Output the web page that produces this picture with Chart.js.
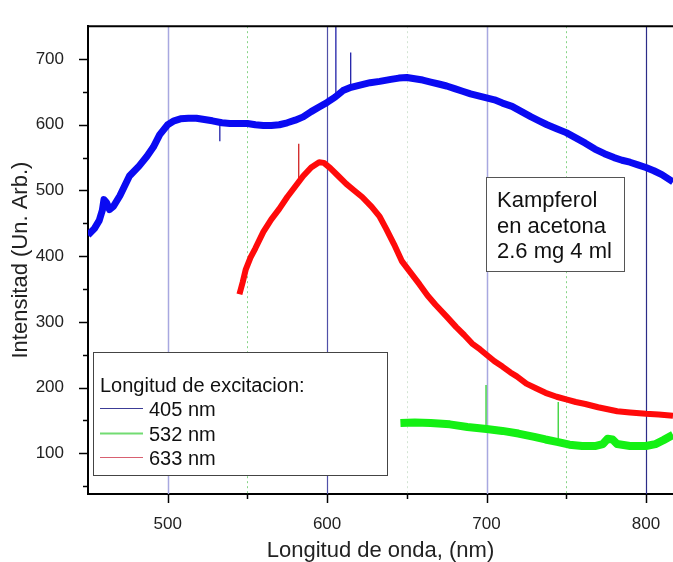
<!DOCTYPE html>
<html><head><meta charset="utf-8">
<script src="https://cdn.jsdelivr.net/npm/chart.js@4.4.1/dist/chart.umd.min.js"></script>
<style>html,body{margin:0;padding:0;background:#fff;overflow:hidden}#wrap{width:673px;height:562px;position:relative}</style>
</head><body><div id="wrap"><canvas id="c" width="673" height="562"></canvas></div>
<script>
const FONT = 'Arial, "Liberation Sans", sans-serif';

// ---- axis ranges / ticks ----
const xRange = [450, 817];
const yRange = [38, 750];
const xTickLabels = [500, 600, 700, 800];
const xMinorTicks = [550, 650, 750];
const yTickLabels = [100, 200, 300, 400, 500, 600, 700];
const yMinorTicks = [50, 150, 250, 350, 450, 550, 650];
const refLinesSolid = [500, 600, 700, 800];
const refLinesDotted = [550, 650, 750];

// ---- texts ----
const seriesLabels = ['405 nm', '532 nm', '633 nm'];
const legendTitle = 'Longitud de excitacion:';
const noteLines = ['Kampferol', 'en acetona', '2.6 mg 4 ml'];
const xTitle = 'Longitud de onda, (nm)';
const yTitle = 'Intensitad (Un. Arb.)';

// ---- series: [wavelength nm, intensity] ----
const s405 = [[450,432],[454,442],[457,454],[459,470],[460,486],[461.5,482],[463.5,471],[466,476],[470,492],[476,522],[482,537],[487,552],[491,566],[495,585],[500,600],[504,606],[508,609],[513,610],[518,610],[523,608],[528,606],[534,603],[539,602],[545,602],[550,602],[555,600],[560,599],[565,599],[570,600],[575,603],[580,607],[585,612],[590,620],[595,627],[600,634],[605,642],[610,652],[615,657],[620,660],[627,664],[633,666],[640,669],[645,671],[650,672],[655,670],[660,668],[665,665],[670,662],[675,659],[680,655],[685,651],[690,647],[695,644],[700,641],[705,638],[710,633],[716,628],[722,620],[728,612],[733,606],[738,600],[744,594],[750,588],[756,580],[762,572],[768,563],[774,556],[780,550],[785,546],[790,543],[795,539],[800,535],[805,530],[810,524],[817,513]];
const s532 = [[646,146],[655,147],[665,146],[677,144],[688,140],[700,137],[710,134],[720,130],[730,125],[737,121],[745,117],[752,113],[760,111],[768,111],[773,114],[776,122],[779,121],[782,114],[790,111],[800,111],[806,114],[811,120],[817,128]];
const s633 = [[545,342],[547,360],[549,380],[552,398],[555,412],[560,437],[565,456],[570,472],[575,490],[580,506],[585,522],[590,535],[595,543],[598,542],[602,534],[607,522],[612,510],[617,500],[622,490],[628,475],[633,460],[637,442],[642,418],[647,392],[652,376],[658,357],[663,340],[668,326],[675,308],[681,292],[686,280],[691,267],[696,258],[700,250],[705,240],[710,232],[715,223],[719,217],[725,206],[731,199],[737,192],[744,186],[750,182],[756,178],[762,175],[770,170],[776,167],[782,164],[790,162],[800,160],[808,159],[817,157]];
// spikes: [wavelength, base, tip]
const spikes405 = [[605.5,640,800],[614.8,655,710],[532.7,603,575]];
const spikes532 = [[699.7,137,204],[745,117,178]];
const spikes633 = [[582.2,512,571]];

const colors = {b:'#0a0af2', g:'#14f014', r:'#ff0a0a'};

const toXY = arr => arr.map(p => ({x:p[0], y:p[1]}));
const mainDs = (label, arr, color, w) => ({label, data: toXY(arr), borderColor: color, borderWidth: w,
  pointRadius: 0, tension: 0, fill: false, borderJoinStyle: 'round', borderCapStyle: 'butt'});
const spikeDs = (arr, color) => arr.map(s => ({label: 'spike', data: [{x:s[0], y:s[1]}, {x:s[0], y:s[2]}],
  borderColor: color, borderWidth: 1.3, pointRadius: 0, tension: 0, fill: false}));

const datasets = [
  mainDs(seriesLabels[0], s405, colors.b, 7),
  mainDs(seriesLabels[2], s633, colors.r, 6),
  mainDs(seriesLabels[1], s532, colors.g, 8),
  ...spikeDs(spikes405, '#2020a8'),
  ...spikeDs(spikes633, '#d02020'),
  ...spikeDs(spikes532, '#30d030')
];

const solidStyle = {500:['#a8a8e0',1.5], 600:['#5050a8',1.2], 700:['#a8a8e0',1.5], 800:['#2c2c88',1.2]};
const dottedStyle = {550:'#86d486', 650:'#d2e4d2', 750:'#86d486'};

const decor = {
  id: 'decor',
  beforeDatasetsDraw(chart) {
    const {ctx, chartArea: a, scales: {x}} = chart;
    ctx.save();
    refLinesDotted.forEach(v => {
      const px = Math.round(x.getPixelForValue(v)) + 0.5;
      ctx.strokeStyle = dottedStyle[v]; ctx.lineWidth = 1; ctx.setLineDash([2, 3]);
      ctx.beginPath(); ctx.moveTo(px, a.top); ctx.lineTo(px, a.bottom); ctx.stroke();
    });
    ctx.setLineDash([]);
    refLinesSolid.forEach(v => {
      const px = Math.round(x.getPixelForValue(v)) + 0.5;
      ctx.strokeStyle = solidStyle[v][0]; ctx.lineWidth = solidStyle[v][1];
      ctx.beginPath(); ctx.moveTo(px, a.top); ctx.lineTo(px, a.bottom); ctx.stroke();
    });
    ctx.restore();
  },
  afterDatasetsDraw(chart) {
    const {ctx, chartArea: a, scales: {x, y}} = chart;
    ctx.save();
    // top frame
    ctx.strokeStyle = '#000'; ctx.lineWidth = 2;
    ctx.beginPath(); ctx.moveTo(a.left - 1, a.top); ctx.lineTo(a.right, a.top); ctx.stroke();
    // ticks
    ctx.lineWidth = 1.5;
    const xt = (vals, len) => vals.forEach(v => { const px = Math.round(x.getPixelForValue(v)) + 0.5;
      ctx.beginPath(); ctx.moveTo(px, a.bottom); ctx.lineTo(px, a.bottom + len); ctx.stroke(); });
    const yt = (vals, len) => vals.forEach(v => { const py = Math.round(y.getPixelForValue(v)) + 0.5;
      ctx.beginPath(); ctx.moveTo(a.left, py); ctx.lineTo(a.left - len, py); ctx.stroke(); });
    xt(xTickLabels, 9); xt(xMinorTicks, 5);
    yt(yTickLabels, 9); yt(yMinorTicks, 5);

    // legend box
    ctx.fillStyle = '#fff'; ctx.strokeStyle = '#444'; ctx.lineWidth = 1;
    ctx.fillRect(93, 352, 294, 123); ctx.strokeRect(93.5, 352.5, 294, 123);
    ctx.fillStyle = '#111'; ctx.font = '20px ' + FONT; ctx.textBaseline = 'alphabetic'; ctx.textAlign = 'left';
    ctx.fillText(legendTitle, 100, 392);
    const legCols = [['#3c3c96',1.2], ['#72dc72',2], ['#d86070',1.2]];
    const legY = [408.5, 433.5, 457.5];
    seriesLabels.forEach((lab, i) => {
      ctx.strokeStyle = legCols[i][0]; ctx.lineWidth = legCols[i][1];
      ctx.beginPath(); ctx.moveTo(100, legY[i]); ctx.lineTo(143, legY[i]); ctx.stroke();
      ctx.fillText(lab, 149, legY[i] + 7.5);
    });

    // note box
    ctx.fillStyle = '#fff'; ctx.strokeStyle = '#555'; ctx.lineWidth = 1;
    ctx.fillRect(486, 177, 138, 94); ctx.strokeRect(486.5, 177.5, 138, 94);
    ctx.fillStyle = '#111'; ctx.font = '22px ' + FONT;
    const noteY = [207, 233, 258];
    noteLines.forEach((t, i) => ctx.fillText(t, 497, noteY[i]));
    ctx.restore();
  }
};

new Chart(document.getElementById('c'), {
  type: 'line',
  data: { datasets },
  plugins: [decor],
  options: {
    responsive: false, animation: false, parsing: true,
    layout: { padding: { top: 13, right: 0, left: 0, bottom: 0 } },
    plugins: { legend: { display: false }, tooltip: { enabled: false } },
    scales: {
      x: {
        type: 'linear', min: xRange[0], max: xRange[1],
        afterBuildTicks: s => { s.ticks = xTickLabels.map(v => ({ value: v })); },
        afterFit: s => { s.height = 68; },
        grid: { display: false },
        border: { display: true, color: '#000', width: 2 },
        ticks: { font: { family: FONT, size: 17 }, color: '#222', padding: 12, maxRotation: 0, autoSkip: false },
        title: { display: true, text: xTitle, color: '#222', font: { family: FONT, size: 22, lineHeight: 1 }, padding: { top: 0, bottom: 0 } }
      },
      y: {
        type: 'linear', min: yRange[0], max: yRange[1],
        afterBuildTicks: s => { s.ticks = yTickLabels.map(v => ({ value: v })); },
        afterFit: s => { s.width = 88; },
        grid: { display: false },
        border: { display: true, color: '#000', width: 2 },
        ticks: { font: { family: FONT, size: 17 }, color: '#222', padding: 16, autoSkip: false },
        title: { display: true, text: yTitle, color: '#222', font: { family: FONT, size: 22, lineHeight: 1 }, padding: { top: 10, bottom: 0 } }
      }
    }
  }
});
</script></body></html>
